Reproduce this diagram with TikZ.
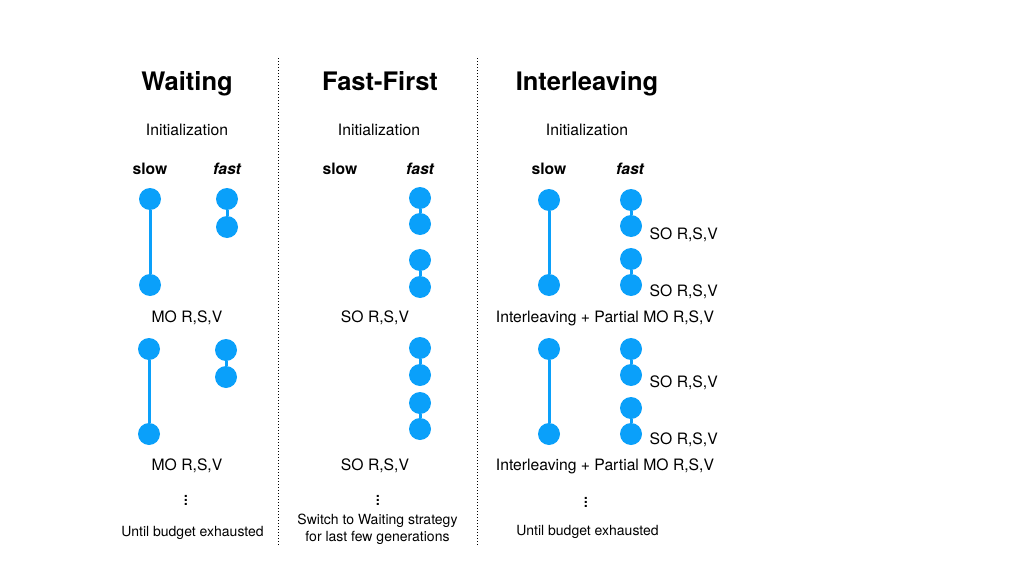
\documentclass[tikz,border=0pt]{standalone}
\usepackage{fontspec}
\setmainfont{TeX Gyre Heros}
\usetikzlibrary{positioning}
\definecolor{dotblue}{RGB}{10,160,250}

\begin{document}
\begin{tikzpicture}[x=1pt,y=-1pt]

\tikzset{dot/.style = {shape=circle,fill=dotblue,minimum size=22pt,inner sep=0pt}}
\tikzset{link/.style = {draw=dotblue,line width=3pt}}
\tikzset{title/.style = {font=\fontsize{25.5}{30}\selectfont\bfseries, anchor=base}}
\tikzset{lbl/.style = {font=\fontsize{15.7}{19}\selectfont}}
\tikzset{head/.style = {font=\fontsize{15.7}{19}\selectfont\bfseries}}
\tikzset{note/.style = {font=\fontsize{14}{17}\selectfont, align=center}}
\tikzset{more/.style = {font=\fontsize{20}{22}\selectfont, inner sep=0pt}}
\tikzset{divider/.style = {dotted, line width=1pt}}
\useasboundingbox (0,0) rectangle (1013,570);

% titles
\node[title] (tw) at (187,90) {Waiting};
\node[title] (tf) at (380,90) {Fast-First};
\node[title] (ti) at (587,90) {Interleaving};
\node[lbl] (iw) at (187,130) {Initialization};
\node[lbl] (if) at (379,130) {Initialization};
\node[lbl] (ii) at (587,130) {Initialization};
\node[head] (sw) at (150,169) {slow};
\node[head] (fw) at (227,169) {\itshape fast};
\node[head] (sf) at (340,169) {slow};
\node[head] (ff) at (420,169) {\itshape fast};
\node[head] (si) at (549,169) {slow};
\node[head] (fi) at (630,169) {\itshape fast};

% dividers
\coordinate (d1t) at (278,58);
\coordinate (d1b) at (278,545);
\coordinate (d2t) at (477,58);
\coordinate (d2b) at (477,545);
\draw[divider] (d1t) -- (d1b);
\draw[divider] (d2t) -- (d2b);

% waiting
\node[dot] (w1) at (150,199) {};
\node[dot] (w2) at (150,285) {};
\node[dot] (w3) at (227,199) {};
\node[dot] (w4) at (227,227) {};
\node[lbl] (wm1) at (187,318) {MO R,S,V};
\node[dot] (w5) at (149,349) {};
\node[dot] (w6) at (149,434) {};
\node[dot] (w7) at (226,350) {};
\node[dot] (w8) at (226,377) {};
\node[lbl] (wm2) at (187,466) {MO R,S,V};
\node[more] (wv) at (186,497) {$\vdots$};
\node[note] (we) at (192.5,533) {Until budget exhausted};
\draw[link] (w1) -- (w2);
\draw[link] (w3) -- (w4);
\draw[link] (w5) -- (w6);
\draw[link] (w7) -- (w8);

% fast-first
\node[dot] (f1) at (420,198) {};
\node[dot] (f2) at (420,224) {};
\node[dot] (f3) at (420,260) {};
\node[dot] (f4) at (420,287) {};
\node[lbl] (fm1) at (375,318) {SO R,S,V};
\node[dot] (f5) at (420,348) {};
\node[dot] (f6) at (420,375) {};
\node[dot] (f7) at (420,403) {};
\node[dot] (f8) at (420,429) {};
\node[lbl] (fm2) at (375,466) {SO R,S,V};
\node[more] (fv) at (378,497) {$\vdots$};
\node[note] (fe) at (377.5,529.5) {Switch to Waiting strategy\\for last few generations};
\draw[link] (f1) -- (f2);
\draw[link] (f3) -- (f4);
\draw[link] (f5) -- (f6);
\draw[link] (f7) -- (f8);

% interleaving
\node[dot] (i1) at (549,200) {};
\node[dot] (i2) at (549,285) {};
\node[dot] (i3) at (631,200) {};
\node[dot] (i4) at (631,226) {};
\node[dot] (i5) at (631,259) {};
\node[dot] (i6) at (631,285) {};
\node[lbl, right=4pt of i4, yshift=-9pt] (is1) {SO R,S,V};
\node[lbl, right=4pt of i6, yshift=-7pt] (is2) {SO R,S,V};
\node[lbl] (im1) at (605,318) {Interleaving + Partial MO R,S,V};
\node[dot] (i7) at (549,349) {};
\node[dot] (i8) at (549,434) {};
\node[dot] (i9) at (631,349) {};
\node[dot] (i10) at (631,375) {};
\node[dot] (i11) at (631,408) {};
\node[dot] (i12) at (631,434) {};
\node[lbl, right=4pt of i10, yshift=-8pt] (is3) {SO R,S,V};
\node[lbl, right=4pt of i12, yshift=-6pt] (is4) {SO R,S,V};
\node[lbl] (im2) at (605,466) {Interleaving + Partial MO R,S,V};
\node[more] (iv) at (586,499) {$\vdots$};
\node[note] (ie) at (587.5,532) {Until budget exhausted};
\draw[link] (i1) -- (i2);
\draw[link] (i3) -- (i4);
\draw[link] (i5) -- (i6);
\draw[link] (i7) -- (i8);
\draw[link] (i9) -- (i10);
\draw[link] (i11) -- (i12);
\end{tikzpicture}
\end{document}
